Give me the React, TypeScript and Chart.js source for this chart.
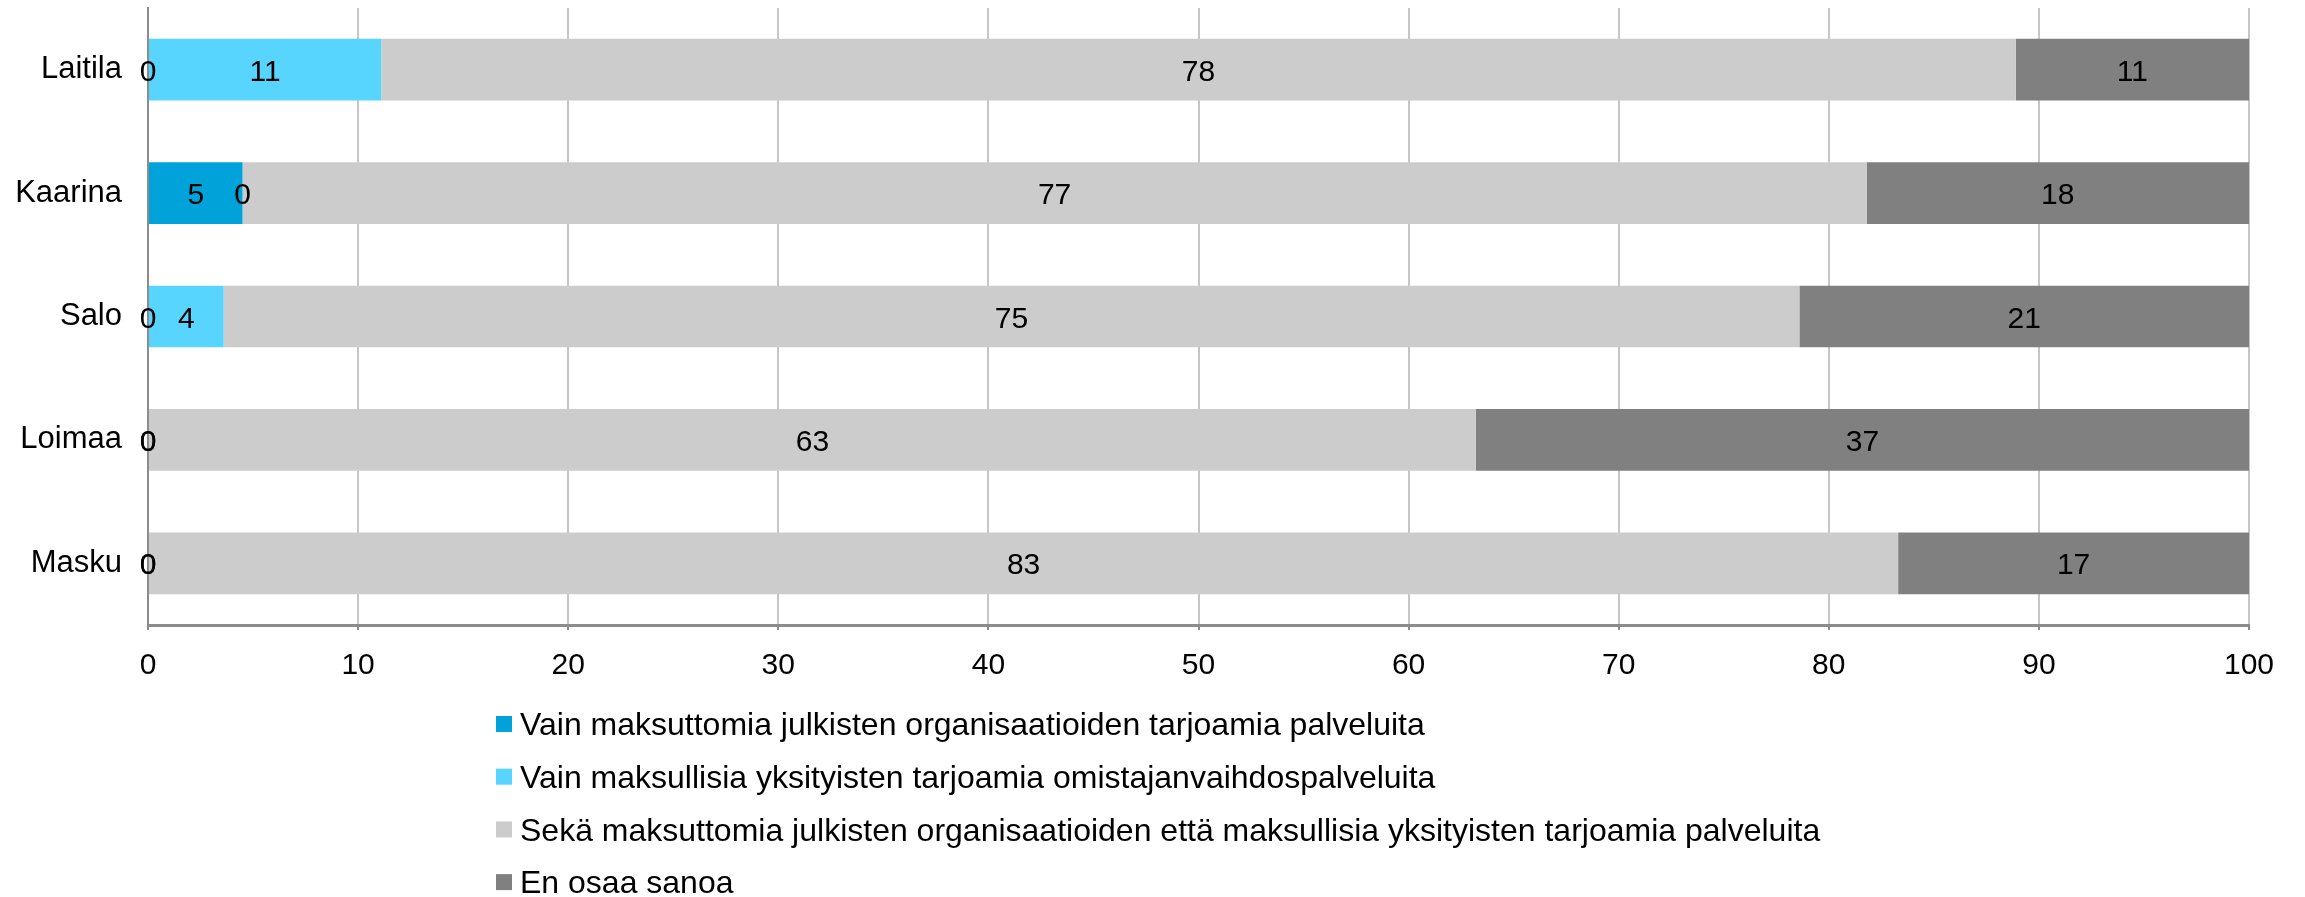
import React, { useEffect, useRef } from "react";
import { Chart, registerables } from "chart.js";

Chart.register(...registerables);

const categories = ["Laitila", "Kaarina", "Salo", "Loimaa", "Masku"];
const seriesLabels = [
  "Vain maksuttomia julkisten organisaatioiden tarjoamia palveluita",
  "Vain maksullisia yksityisten tarjoamia omistajanvaihdospalveluita",
  "Sekä maksuttomia julkisten organisaatioiden että maksullisia yksityisten tarjoamia palveluita",
  "En osaa sanoa",
];
const onlyPublicFree = [0, 4.5, 0, 0, 0];
const onlyPrivatePaid = [11.1, 0, 3.6, 0, 0];
const both = [77.8, 77.3, 75.0, 63.2, 83.3];
const dontKnow = [11.1, 18.2, 21.4, 36.8, 16.7];
const xTicks = [0, 10, 20, 30, 40, 50, 60, 70, 80, 90, 100];

const colors = ["#00A3D9", "#57D5FF", "#CCCCCC", "#808080"];
const FONT = "'Liberation Sans', Arial, sans-serif";

const labelPlugin = {
  id: "segLabels",
  afterDatasetsDraw(chart: any) {
    const ctx = chart.ctx;
    ctx.save();
    ctx.font = `30px ${FONT}`;
    ctx.fillStyle = "#000";
    ctx.textAlign = "center";
    ctx.textBaseline = "alphabetic";
    chart.data.datasets.forEach((ds: any, di: number) => {
      const meta = chart.getDatasetMeta(di);
      meta.data.forEach((el: any, i: number) => {
        const p = el.getProps(["x", "y", "base"], true);
        const cx = (p.x + p.base) / 2;
        ctx.fillText(String(Math.round(ds.data[i])), cx, p.y + 11);
      });
    });
    ctx.restore();
  },
};

const legendPlugin = {
  id: "customLegend",
  afterDraw(chart: any) {
    const ctx = chart.ctx;
    const startY = chart.chartArea.bottom + 99;
    const step = 52.7;
    const size = 32;
    ctx.save();
    chart.data.datasets.forEach((ds: any, i: number) => {
      const cy = startY + i * step;
      ctx.fillStyle = ds.backgroundColor;
      ctx.fillRect(496, cy - 8, 16, 16);
      ctx.font = `${size}px ${FONT}`;
      ctx.fillStyle = "#000";
      ctx.textAlign = "left";
      ctx.textBaseline = "alphabetic";
      ctx.fillText(ds.label, 520, cy + 0.355 * size);
    });
    ctx.restore();
  },
};

export default function App() {
  const ref = useRef<HTMLCanvasElement>(null);
  useEffect(() => {
    if (!ref.current) return;
    const values = [onlyPublicFree, onlyPrivatePaid, both, dontKnow];
    const chart = new Chart(ref.current, {
      type: "bar",
      data: {
        labels: categories,
        datasets: values.map((v, i) => ({
          label: seriesLabels[i],
          data: v,
          backgroundColor: colors[i],
          borderWidth: 0,
          categoryPercentage: 0.5,
          barPercentage: 1.0,
        })),
      },
      options: {
        indexAxis: "y",
        responsive: false,
        animation: false,
        layout: { padding: { top: 8, right: 56, bottom: 212, left: 0 } },
        plugins: {
          legend: { display: false },
          tooltip: { enabled: false },
        },
        scales: {
          x: {
            stacked: true,
            min: 0,
            max: 100,
            afterBuildTicks: (scale: any) => {
              scale.ticks = xTicks.map((v) => ({ value: v }));
            },
            afterFit: (scale: any) => {
              scale.height = 60;
            },
            grid: {
              color: "#C6C6C6",
              lineWidth: 2,
              tickColor: "#8C8C8C",
              tickLength: 5,
              drawTicks: true,
            },
            border: { display: true, color: "#8C8C8C", width: 3 },
            ticks: {
              color: "#000",
              font: { family: FONT, size: 30 },
              padding: 18,
              maxRotation: 0,
              autoSkip: false,
            },
          },
          y: {
            stacked: true,
            afterFit: (scale: any) => {
              scale.width = 148;
              scale.paddingTop = 0;
              scale.paddingBottom = 0;
            },
            grid: { display: false, drawTicks: false },
            border: { display: true, color: "#8C8C8C", width: 2 },
            ticks: {
              color: "#000",
              font: { family: FONT, size: 31 },
              padding: 26,
            },
          },
        },
      },
      plugins: [labelPlugin, legendPlugin],
    });
    return () => chart.destroy();
  }, []);
  return (
    <div style={{ position: "absolute", left: 0, top: 0, width: 2305, height: 897, background: "#fff" }}>
      <canvas ref={ref} width={2305} height={897} style={{ display: "block" }} />
    </div>
  );
}
